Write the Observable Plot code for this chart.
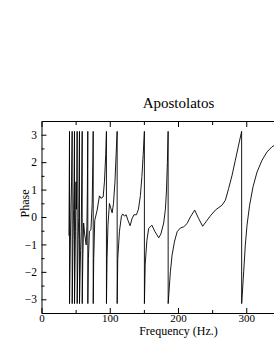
<!DOCTYPE html>
<html>
<head>
<meta charset="utf-8">
<script src="https://cdn.jsdelivr.net/npm/d3@7"></script>
<script src="https://cdn.jsdelivr.net/npm/@observablehq/plot@0.6"></script>
<style>
  html, body { margin: 0; padding: 0; background: #fff; overflow: hidden; width: 274px; height: 354px; }
  #chart { width: 340px; overflow: hidden; }
  svg { font-family: "Liberation Serif", "DejaVu Serif", serif; max-width: none !important; width: 340px !important; height: 354px !important; }
</style>
</head>
<body>
<div id="chart"></div>
<script>
const titleText = "Apostolatos";
const xLabel = "Frequency (Hz.)";
const yLabel = "Phase";
const xLabelTicks = [0, 100, 200, 300];
const xMajorTicks = [0, 100, 200, 300, 400];
const xMinorTicks = [50, 150, 250, 350];
const yMajorTicks = [-3, -2, -1, 0, 1, 2, 3];
const yMinorTicks = [-2.5, -1.5, -0.5, 0.5, 1.5, 2.5];

const P = 3.14;
const freqHz = [
  39.5, 39.9, 40.3, 40.35,
  41.5, 42.5, 43.3, 44.2, 44.25,
  45.5, 46.3, 47.0, 47.6, 47.65,
  49.0, 49.8, 50.4, 51.0, 51.5, 51.55,
  53.0, 53.8, 54.9, 54.95,
  56.5, 57.5, 58.9, 58.95,
  59.8, 61.0, 62.5, 64.7, 65.8, 66.5, 67.1, 67.15,
  68.0, 69.5, 71.7, 73.5, 74.5, 75.0, 75.05,
  75.8, 77.3, 80.8, 84.2, 86.4, 89.6, 91.5, 93.4, 94.4, 94.45,
  95.3, 96.6, 98.8, 100.7, 102.8, 104.7, 106.9, 108.6, 110.1, 110.15,
  111.0, 113.5, 116.4, 118.3, 120.8, 123.3, 125.9, 129.1, 131.8, 134.7, 138.4, 141.3, 144.2, 146.4, 148.3, 150.0, 150.05,
  151.2, 153.7, 156.3, 161.0, 165.2, 171.0, 174.2, 178.3, 180.8, 182.3, 183.7, 184.8, 184.85,
  188.1, 190.6, 194.0, 198.0, 202.8, 207.6, 212.6, 217.4, 223.7, 229.6, 235.4, 241.9, 246.7, 254.0, 263.8, 268.7, 273.5, 278.5, 283.3, 288.1, 292.5, 292.55,
  295.5, 297.9, 300.4, 304.2, 309.2, 315.1, 322.4, 329.7, 337.0, 345.0, 360.0, 380.0, 400.0
];
const phaseRad = [
  -0.65, 1.0, P, -P,
  -1.0, 0.5, 1.3, P, -P,
  -0.8, 0.3, 1.3, P, -P,
  -0.5, 1.3, 0.3, 1.2, P, -P,
  -0.8, 0.0, P, -P,
  -1.2, -0.5, P, -P,
  -1.5, -0.2, -0.6, -1.0, -0.3, 1.0, P, -P,
  -1.5, -0.5, -0.45, 0.5, 2.0, P, -P,
  -1.5, -0.1, 0.27, 0.79, 0.7, 0.75, 1.3, 2.3, P, -P,
  -1.5, -0.3, 0.51, 0.35, 0.17, 0.5, 1.3, 2.3, P, -P,
  -1.5, -0.5, 0.05, 0.13, 0.05, 0.1, -0.1, -0.3, -0.05, 0.1, 0.1, 0.3, 0.8, 1.5, 2.3, P, -P,
  -1.7, -0.83, -0.4, -0.28, -0.5, -0.74, -0.6, -0.2, 0.3, 0.93, 2.0, P, -P,
  -1.98, -1.37, -0.89, -0.52, -0.38, -0.34, -0.22, 0.02, 0.27, -0.04, -0.32, -0.1, 0.06, 0.27, 0.45, 0.63, 1.06, 1.54, 2.09, 2.64, P, -P,
  -1.98, -1.01, -0.28, 0.45, 1.12, 1.66, 2.09, 2.39, 2.58, 2.68, 2.8, 2.88, 2.93
];

const data = freqHz.map((f, i) => ({f, p: phaseRad[i]}));
const blank = () => "";

const chart = Plot.plot({
  width: 340,
  height: 354,
  marginLeft: 41.5,
  marginRight: 25.5,
  marginTop: 121,
  marginBottom: 41,
  style: {fontFamily: "Liberation Serif, serif", fontSize: "12px", overflow: "visible", background: "#fff", maxWidth: "none"},
  x: {domain: [0, 400]},
  y: {domain: [-3.5, 3.5]},
  marks: [
    Plot.frame({stroke: "#000", strokeWidth: 1}),
    Plot.axisX(xLabelTicks, {anchor: "bottom", tickSize: 0, tickPadding: 1, fontSize: 11, label: null, fill: "#000"}),
    Plot.axisY(yMajorTicks, {anchor: "left", tickSize: 0, tickPadding: 5, fontSize: 11.5, label: null, fill: "#000"}),
    Plot.axisX(xMajorTicks, {anchor: "bottom", tickSize: -5, tickFormat: blank, label: null, stroke: "#000"}),
    Plot.axisX(xMinorTicks, {anchor: "bottom", tickSize: -3, tickFormat: blank, label: null, stroke: "#000"}),
    Plot.axisX(xMajorTicks, {anchor: "top", tickSize: -5, tickFormat: blank, label: null, stroke: "#000"}),
    Plot.axisX(xMinorTicks, {anchor: "top", tickSize: -3, tickFormat: blank, label: null, stroke: "#000"}),
    Plot.axisY(yMajorTicks, {anchor: "left", tickSize: -5, tickFormat: blank, label: null, stroke: "#000"}),
    Plot.axisY(yMinorTicks, {anchor: "left", tickSize: -3, tickFormat: blank, label: null, stroke: "#000"}),
    Plot.line(data, {x: "f", y: "p", stroke: "#000", strokeWidth: 0.9}),
    Plot.text([titleText], {frameAnchor: "top", dy: -24, fontSize: 15, fill: "#000"}),
    Plot.text([xLabel], {frameAnchor: "bottom", dy: 21, fontSize: 12, fill: "#000"}),
    Plot.text([yLabel], {frameAnchor: "left", dx: -17, rotate: -90, fontSize: 12, fill: "#000"})
  ]
});
document.getElementById("chart").append(chart);
</script>
</body>
</html>
